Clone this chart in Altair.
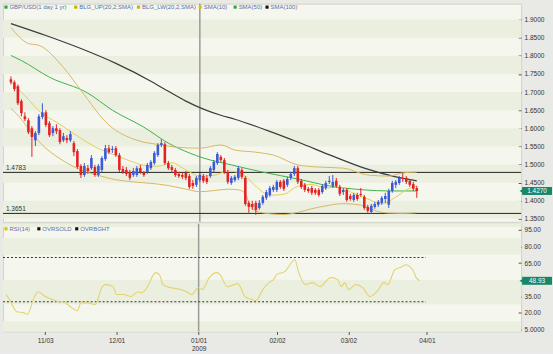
import altair as alt
import pandas as pd

# ---------------- data ----------------
opens = [1.735,1.727,1.716,1.675,1.633,1.622,1.600,1.567,1.587,1.631,
1.644,1.614,1.587,1.600,1.595,1.567,1.573,1.567,1.559,1.537,
1.496,1.471,1.490,1.490,1.493,1.471,1.485,1.515,1.545,1.540,
1.545,1.526,1.488,1.485,1.479,1.471,1.471,1.490,1.477,1.479,
1.490,1.504,1.526,1.554,1.556,1.504,1.493,1.485,1.474,1.471,
1.477,1.468,1.449,1.444,1.457,1.468,1.463,1.468,1.485,1.504,
1.521,1.512,1.479,1.449,1.457,1.463,1.485,1.463,1.394,1.391,
1.394,1.380,1.394,1.408,1.416,1.430,1.430,1.452,1.455,1.444,
1.463,1.474,1.490,1.455,1.444,1.433,1.435,1.430,1.430,1.424,
1.435,1.452,1.441,1.455,1.438,1.424,1.430,1.413,1.402,1.416,
1.419,1.411,1.383,1.369,1.383,1.389,1.394,1.405,1.389,1.427,
1.444,1.449,1.463,1.463,1.455,1.446,1.435]
highs = [1.743,1.732,1.721,1.680,1.644,1.628,1.606,1.592,1.639,1.669,
1.650,1.620,1.606,1.611,1.600,1.587,1.581,1.592,1.565,1.543,
1.501,1.504,1.499,1.526,1.499,1.501,1.523,1.554,1.554,1.551,
1.551,1.532,1.496,1.493,1.485,1.490,1.496,1.499,1.482,1.504,
1.512,1.537,1.559,1.570,1.562,1.510,1.499,1.490,1.479,1.477,
1.482,1.474,1.457,1.468,1.477,1.474,1.471,1.496,1.512,1.534,
1.526,1.518,1.485,1.468,1.471,1.496,1.490,1.468,1.400,1.400,
1.400,1.402,1.416,1.430,1.441,1.444,1.457,1.457,1.460,1.466,
1.479,1.496,1.496,1.460,1.449,1.438,1.441,1.435,1.435,1.446,
1.455,1.468,1.471,1.463,1.444,1.435,1.435,1.419,1.422,1.422,
1.435,1.416,1.389,1.391,1.397,1.402,1.413,1.422,1.433,1.455,
1.457,1.468,1.477,1.468,1.460,1.452,1.441]
lows = [1.721,1.702,1.664,1.633,1.620,1.584,1.521,1.551,1.581,1.625,
1.603,1.576,1.578,1.584,1.556,1.562,1.559,1.562,1.523,1.488,
1.463,1.466,1.474,1.485,1.466,1.466,1.479,1.510,1.529,1.532,
1.521,1.479,1.474,1.468,1.457,1.466,1.466,1.474,1.466,1.474,
1.485,1.499,1.521,1.548,1.499,1.485,1.479,1.466,1.463,1.460,
1.457,1.433,1.433,1.438,1.452,1.449,1.446,1.463,1.479,1.499,
1.507,1.474,1.446,1.444,1.452,1.457,1.460,1.386,1.367,1.375,
1.361,1.375,1.389,1.402,1.411,1.424,1.424,1.433,1.427,1.438,
1.457,1.468,1.446,1.433,1.424,1.422,1.416,1.416,1.411,1.419,
1.430,1.446,1.435,1.435,1.413,1.416,1.397,1.400,1.397,1.400,
1.411,1.375,1.367,1.364,1.378,1.383,1.389,1.394,1.380,1.422,
1.435,1.444,1.452,1.446,1.438,1.427,1.408]
closes = [1.727,1.708,1.669,1.642,1.625,1.589,1.576,1.587,1.633,1.644,
1.609,1.581,1.600,1.592,1.562,1.578,1.567,1.584,1.534,1.493,
1.471,1.496,1.482,1.518,1.471,1.496,1.518,1.545,1.534,1.543,
1.526,1.485,1.479,1.474,1.463,1.482,1.490,1.479,1.471,1.499,
1.507,1.532,1.554,1.559,1.504,1.490,1.485,1.471,1.468,1.466,
1.463,1.438,1.441,1.463,1.471,1.455,1.452,1.490,1.507,1.529,
1.512,1.479,1.452,1.463,1.466,1.490,1.466,1.391,1.383,1.383,
1.375,1.394,1.411,1.424,1.435,1.438,1.452,1.438,1.433,1.460,
1.474,1.490,1.452,1.438,1.430,1.427,1.422,1.422,1.416,1.441,
1.449,1.455,1.452,1.441,1.419,1.430,1.402,1.405,1.416,1.405,
1.416,1.380,1.372,1.386,1.391,1.397,1.408,1.413,1.427,1.449,
1.452,1.463,1.460,1.452,1.444,1.433,1.427]

sma100_i = [0, 10, 20, 30, 40, 45, 50, 55, 60, 64, 73, 82, 92, 101, 110, 116]
sma100_v = [1.889, 1.856, 1.820, 1.779, 1.730, 1.702, 1.675, 1.653, 1.636, 1.625, 1.595, 1.562, 1.523, 1.490, 1.466, 1.455]

sma50_i = [0, 3, 11, 22, 29, 38, 45, 51, 55, 63, 72, 82, 91, 101, 108, 116]
sma50_v = [1.801, 1.787, 1.741, 1.697, 1.650, 1.603, 1.559, 1.532, 1.518, 1.499, 1.479, 1.460, 1.441, 1.430, 1.427, 1.427]

bup_i = [0, 5, 8, 15, 20, 28, 36, 43, 47, 54, 60, 64, 70, 75, 82, 88, 95, 102, 108, 112, 116]
bup_v = [1.878, 1.834, 1.829, 1.768, 1.705, 1.609, 1.567, 1.554, 1.548, 1.545, 1.554, 1.540, 1.534, 1.526, 1.499, 1.493, 1.490, 1.471, 1.468, 1.477, 1.479]

blw_i = [0, 3, 6, 10, 15, 20, 25, 30, 35, 40, 45, 50, 54, 58, 62, 65, 67, 68, 70, 74, 78, 82, 86, 90, 95, 100, 104, 108, 112, 116]
blw_v = [1.655, 1.625, 1.585, 1.545, 1.510, 1.485, 1.470, 1.458, 1.452, 1.448, 1.442, 1.432, 1.425, 1.428, 1.432, 1.430, 1.420, 1.395, 1.372, 1.364, 1.362, 1.368, 1.378, 1.386, 1.392, 1.388, 1.373, 1.366, 1.365, 1.367]

sma10_i = [0, 4, 9, 13, 18, 22, 26, 30, 34, 38, 42, 46, 50, 54, 58, 62, 66, 70, 74, 78, 82, 86, 90, 94, 98, 102, 106, 110, 113, 116]
sma10_v = [1.728, 1.690, 1.640, 1.617, 1.585, 1.560, 1.540, 1.525, 1.510, 1.498, 1.495, 1.505, 1.485, 1.468, 1.470, 1.482, 1.475, 1.440, 1.415, 1.418, 1.440, 1.445, 1.435, 1.438, 1.420, 1.405, 1.392, 1.410, 1.430, 1.440]

rsi_i = [0,1,3,5,6,8,9,11,13,15,16,18,20,21,23,25,27,28,30,31,33,35,37,38,40,41,42,43,44,46,49,51,52,54,55,57,59,60,62,64,65,67,69,70,72,73,74,75,76,77,78,81,82,84,86,88,91,93,94,95,96,98,100,102,104,106,107,109,111,112,114,115,116]
rsi_v = [36.5,32,21,20,18.5,34.7,39,34.7,32,30,30,25.7,22,29,29,27.5,43.7,45.5,43.7,36.5,36.5,34.7,39,38,45.5,52.7,56.3,54.5,45.5,42.8,41,38.3,36.5,42.8,41,51.8,56.3,54.5,43.7,45.5,46.4,34.7,32,31,41,45,48,50,55,56,57,68,57,45.5,47.3,43.7,51.8,50,43.7,47.3,41,45.5,42.8,34.7,39.2,47.3,45.5,59,61.7,63.5,59,51.8,48.93]

tick_idx = [11, 31, 54, 76, 96, 118]
tick_lab = ['11/03', '12/01', '01/01', '02/02', '03/02', '04/01']
year_idx = 54
year_lab = '2009'
price_ticks = [1.35, 1.40, 1.45, 1.50, 1.55, 1.60, 1.65, 1.70, 1.75, 1.80, 1.85, 1.90]
rsi_ticks = [5, 20, 35, 65, 80, 95]
levels = [1.4783, 1.3651]
rsi_levels = [30, 70]
last_rsi = 48.93

# ---------------- style ----------------
FONT = 'Liberation Sans'
UP, DOWN = '#3d5ad6', '#e32222'
BAND, S10, S50, S100 = '#d7b863', '#e2cf58', '#3cb449', '#3c3c3c'
RSI_C = '#e3d371'
BOX = '#17876a'
TXT = '#5770b0'
W, H1, H2 = 520, 219, 108
XMIN, XMAX = -0.84, 144.4

XS = alt.Scale(domain=[XMIN, XMAX], nice=False, zero=False)
X_none = alt.X('i:Q', scale=XS, axis=None)

lab_expr = ''
for ti, tl in zip(tick_idx, tick_lab):
    val = f"['{tl}','{year_lab}']" if ti == year_idx else f"'{tl}'"
    lab_expr += f"datum.value == {ti} ? {val} : "
lab_expr += "''"
XAX = alt.Axis(values=tick_idx, labelExpr=lab_expr, title=None, domain=False,
               ticks=True, tickSize=3, tickColor='#555', labelFontSize=6.5,
               labelColor='#333', labelFont=FONT, labelPadding=3, labelLineHeight=8.5,
               grid=False)

YP = alt.Scale(domain=[1.3418, 1.944], nice=False, zero=False)
PAX = alt.Axis(orient='right', values=price_ticks, format='.4f', title=None, domain=False,
               tickSize=3, tickColor='#555', labelFontSize=6.5, labelColor='#333',
               labelFont=FONT, labelPadding=3, grid=False, offset=-3)
YR = alt.Scale(domain=[3.2, 100.4], nice=False, zero=False)
RAX = alt.Axis(orient='right', values=rsi_ticks,
               labelExpr="datum.value == 5 ? '5.0000' : format(datum.value, '.2f')",
               title=None, domain=False, tickSize=3, tickColor='#555', labelFontSize=6.5,
               labelColor='#333', labelFont=FONT, labelPadding=3, grid=False, offset=-3)

# ---------------- top panel ----------------
cd = pd.DataFrame({'i': list(range(len(closes))), 'open': opens, 'high': highs,
                   'low': lows, 'close': closes})
cd['dir'] = ['up' if c >= o else 'down' for o, c in zip(opens, closes)]
CCOL = alt.Color('dir:N', scale=alt.Scale(domain=['up', 'down'], range=[UP, DOWN]), legend=None)

bands = pd.DataFrame({'a': price_ticks[:-1], 'b': price_ticks[1:]})
bands = bands.iloc[::2]
stripes = alt.Chart(bands).mark_rect(color='#ebefdf').encode(
    x=alt.value(0), x2=alt.value(W),
    y=alt.Y('a:Q', scale=YP, axis=PAX), y2='b:Q')

lv = pd.DataFrame({'v': levels, 't': [f'{v:.4f}' for v in levels]})
lev_rule = alt.Chart(lv).mark_rule(color='#222', strokeWidth=1).encode(
    x=alt.value(0), x2=alt.value(W), y=alt.Y('v:Q', scale=YP, axis=PAX))
lev_text = alt.Chart(lv).mark_text(align='left', baseline='bottom', dy=-1, fontSize=6.5,
                                   font=FONT, color='#333').encode(
    x=alt.value(3), y=alt.Y('v:Q', scale=YP, axis=PAX), text='t:N')

vline_df = pd.DataFrame({'i': [year_idx]})
vline_top = alt.Chart(vline_df).mark_rule(color='#9a9a96', strokeWidth=1.5).encode(
    x=X_none, y=alt.value(0), y2=alt.value(H1))


def line_layer(ix, vals, color, width=1.0):
    d = pd.DataFrame({'i': ix, 'v': vals})
    return alt.Chart(d).mark_line(color=color, strokeWidth=width, interpolate='monotone').encode(
        x=X_none, y=alt.Y('v:Q', scale=YP, axis=PAX))


lines = [line_layer(sma100_i, sma100_v, S100, 1.2),
         line_layer(sma50_i, sma50_v, S50, 1.0),
         line_layer(bup_i, bup_v, BAND, 1.0),
         line_layer(blw_i, blw_v, BAND, 1.0),
         line_layer(sma10_i, sma10_v, S10, 1.0)]

wick = alt.Chart(cd).mark_rule(strokeWidth=1).encode(
    x=X_none, y=alt.Y('low:Q', scale=YP, axis=PAX), y2='high:Q', color=CCOL)
body = alt.Chart(cd).mark_bar(size=2.6).encode(
    x=X_none, y=alt.Y('open:Q', scale=YP, axis=PAX), y2='close:Q', color=CCOL)

last_df = pd.DataFrame({'v': [closes[-1]], 't': [f'{closes[-1]:.4f}']})
box_top = alt.Chart(last_df).mark_rect(color=BOX, yOffset=-4, y2Offset=4).encode(
    x=alt.value(W + 1), x2=alt.value(W + 31), y=alt.Y('v:Q', scale=YP, axis=PAX), y2='v:Q')
arr_top = alt.Chart(last_df).mark_point(shape='triangle-left', filled=True, size=14,
                                        color=BOX, opacity=1).encode(
    x=alt.value(W), y=alt.Y('v:Q', scale=YP, axis=PAX))
txt_top = alt.Chart(last_df).mark_text(color='white', fontSize=6.5, font=FONT).encode(
    x=alt.value(W + 16), y=alt.Y('v:Q', scale=YP, axis=PAX), text='t:N')

leg_names = ['GBP/USD(1 day 1 yr)', 'BLG_UP(20,2,SMA)', 'BLG_LW(20,2,SMA)', 'SMA(10)', 'SMA(50)', 'SMA(100)']
leg_cols = ['#2fa640', '#c9b300', '#c9b300', '#d9c400', '#2fa640', '#111111']
leg_x = [1, 71, 134, 196, 231, 263]
leg_layers = []
for nm, col, lx in zip(leg_names, leg_cols, leg_x):
    d = pd.DataFrame({'t': [nm]})
    leg_layers.append(alt.Chart(d).mark_square(color=col, size=10, opacity=1).encode(
        x=alt.value(lx + 2), y=alt.value(3.5)))
    leg_layers.append(alt.Chart(d).mark_text(align='left', baseline='middle', fontSize=6,
                                             font=FONT, color=TXT).encode(
        x=alt.value(lx + 5.5), y=alt.value(3.5), text='t:N'))

top = alt.layer(stripes, vline_top, lev_rule, lev_text, *lines, wick, body,
                box_top, arr_top, txt_top, *leg_layers).properties(width=W, height=H1)

# ---------------- RSI panel ----------------
rticks = [0] + rsi_ticks + [100]
rb = pd.DataFrame({'a': [(rticks[k] + rticks[k + 1]) / 2 for k in range(0, len(rticks) - 1)]})
rb['b'] = [(rticks[k + 1] + rticks[k + 2]) / 2 if k + 2 < len(rticks) else 100.4
           for k in range(0, len(rticks) - 1)]
rb['a'] = rb['a'].clip(lower=3.2)
rb = rb.iloc[::2]
rstripes = alt.Chart(rb).mark_rect(color='#ebefdf').encode(
    x=alt.value(0), x2=alt.value(W),
    y=alt.Y('a:Q', scale=YR, axis=RAX), y2='b:Q')

rl = pd.DataFrame({'v': rsi_levels, 'a': [XMIN] * len(rsi_levels), 'b': [tick_idx[-1] - 0.3] * len(rsi_levels)})
rsi_rules = alt.Chart(rl).mark_rule(color='#333', strokeWidth=1, strokeDash=[2, 2]).encode(
    x=alt.X('a:Q', scale=XS, axis=XAX), x2='b:Q', y=alt.Y('v:Q', scale=YR, axis=RAX))

vline_r = alt.Chart(vline_df).mark_rule(color='#9a9a96', strokeWidth=1.5).encode(
    x=alt.X('i:Q', scale=XS, axis=XAX), y=alt.value(0), y2=alt.value(H2))

rsi_df = pd.DataFrame({'i': rsi_i, 'v': rsi_v})
rsi_line = alt.Chart(rsi_df).mark_line(color=RSI_C, strokeWidth=1.1, interpolate='monotone').encode(
    x=alt.X('i:Q', scale=XS, axis=XAX), y=alt.Y('v:Q', scale=YR, axis=RAX))

lr = pd.DataFrame({'v': [last_rsi], 't': [f'{last_rsi:.2f}']})
box_r = alt.Chart(lr).mark_rect(color=BOX, yOffset=-4, y2Offset=4).encode(
    x=alt.value(W + 1), x2=alt.value(W + 31), y=alt.Y('v:Q', scale=YR, axis=RAX), y2='v:Q')
arr_r = alt.Chart(lr).mark_point(shape='triangle-left', filled=True, size=14,
                                 color=BOX, opacity=1).encode(
    x=alt.value(W), y=alt.Y('v:Q', scale=YR, axis=RAX))
txt_r = alt.Chart(lr).mark_text(color='white', fontSize=6.5, font=FONT).encode(
    x=alt.value(W + 16), y=alt.Y('v:Q', scale=YR, axis=RAX), text='t:N')

rleg_names = ['RSI(14)', 'OVRSOLD', 'OVRBGHT']
rleg_cols = ['#d9c400', '#111111', '#111111']
rleg_x = [1, 34, 72]
rleg_layers = []
for nm, col, lx in zip(rleg_names, rleg_cols, rleg_x):
    d = pd.DataFrame({'t': [nm]})
    rleg_layers.append(alt.Chart(d).mark_square(color=col, size=10, opacity=1).encode(
        x=alt.value(lx + 2), y=alt.value(5)))
    rleg_layers.append(alt.Chart(d).mark_text(align='left', baseline='middle', fontSize=6,
                                              font=FONT, color=TXT).encode(
        x=alt.value(lx + 5.5), y=alt.value(5), text='t:N'))

bottom = alt.layer(rstripes, vline_r, rsi_rules, rsi_line, box_r, arr_r, txt_r,
                   *rleg_layers).properties(width=W, height=H2)

chart = alt.vconcat(top, bottom, spacing=2, bounds='flush').properties(
    background='#e9e9e5',
    padding={'left': 2, 'top': 1, 'right': 0, 'bottom': 0},
).configure_view(fill='#f5f7ee', stroke='#d2d4c8', strokeWidth=1)

chart.save('out.html', embed_options={'renderer': 'svg', 'actions': False})
